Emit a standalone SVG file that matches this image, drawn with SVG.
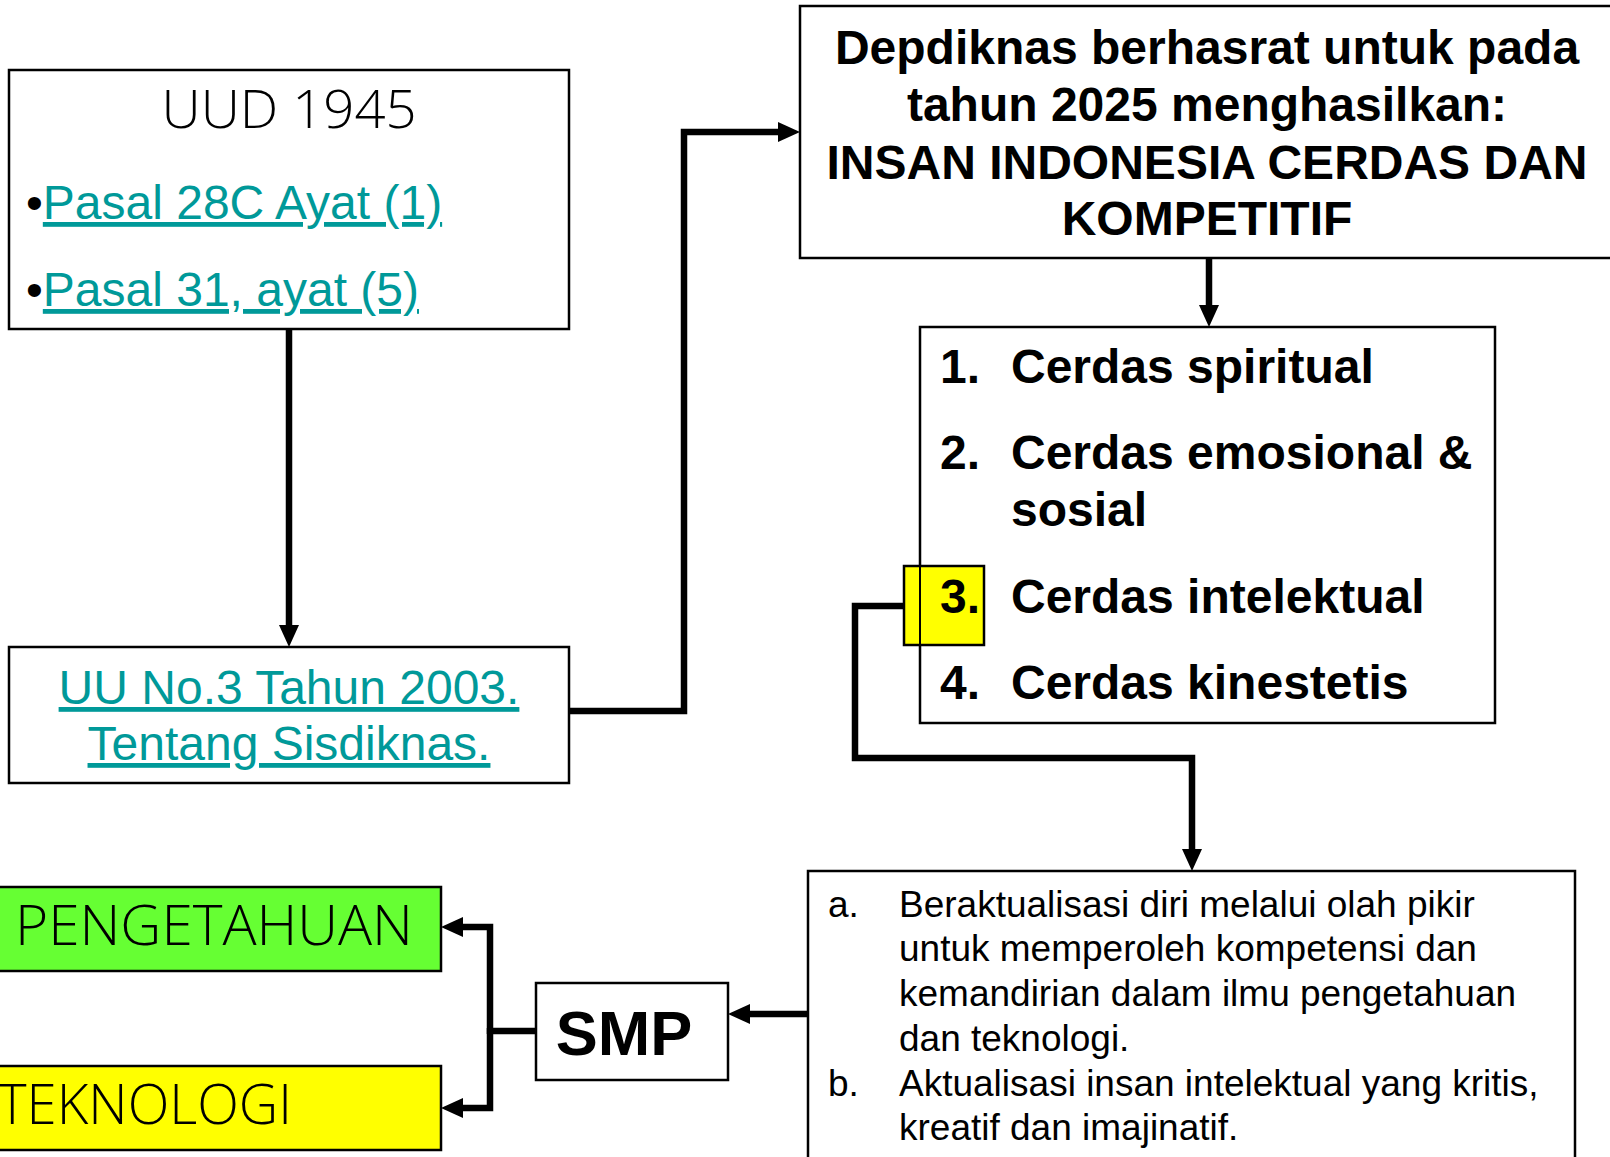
<svg xmlns="http://www.w3.org/2000/svg" width="1610" height="1157" viewBox="0 0 1610 1157">
<style>
.box{fill:#fff;stroke:#000;stroke-width:2.5}
.conn{fill:none;stroke:#000;stroke-width:6.5;stroke-linejoin:miter}
.b48{font-family:"Liberation Sans",Arial,sans-serif;font-weight:bold;font-size:48px;fill:#000}
.link{font-family:"Liberation Sans",Arial,sans-serif;font-size:48px;fill:#009999;text-decoration:underline}
.thin{font-family:"Open Sans","Noto Sans",sans-serif;font-weight:300;fill:#000}
.body{font-family:"Liberation Sans",Arial,sans-serif;font-size:37px;fill:#000}
</style>
<defs>
<marker id="ah" markerUnits="userSpaceOnUse" markerWidth="24" markerHeight="22" refX="12" refY="10" orient="auto">
<path d="M0,0 L22,10 L0,20 Z" fill="#000"/>
</marker>
</defs>
<g id="connectors">
<path class="conn" d="M289,329 V637" marker-end="url(#ah)"/>
<path class="conn" d="M569,711 H684 V132 H790" marker-end="url(#ah)"/>
<path class="conn" d="M1209,258 V317" marker-end="url(#ah)"/>
<path class="conn" d="M904,606 H855 V758 H1192 V861" marker-end="url(#ah)"/>
<path class="conn" d="M808,1014 H738" marker-end="url(#ah)"/>
<path class="conn" d="M536,1031 H490"/>
<path class="conn" d="M490,1034 V927 H451" marker-end="url(#ah)"/>
<path class="conn" d="M490,1028 V1108 H451" marker-end="url(#ah)"/>
</g>
<g id="uud">
<rect class="box" x="9" y="70" width="560" height="259"/>
<text class="thin" x="289" y="128" font-size="54" text-anchor="middle" textLength="255" lengthAdjust="spacingAndGlyphs">UUD 1945</text>
<text x="26" y="219" font-family="Liberation Sans,Arial,sans-serif" font-size="48"><tspan fill="#000">•</tspan><tspan class="link">Pasal 28C Ayat (1)</tspan></text>
<text x="26" y="306" font-family="Liberation Sans,Arial,sans-serif" font-size="48"><tspan fill="#000">•</tspan><tspan class="link">Pasal 31, ayat (5)</tspan></text>
</g>
<g id="uu">
<rect class="box" x="9" y="647" width="560" height="136"/>
<text class="link" x="289" y="704" text-anchor="middle">UU No.3 Tahun 2003.</text>
<text class="link" x="289" y="760" text-anchor="middle">Tentang Sisdiknas.</text>
</g>
<g id="depdiknas">
<rect class="box" x="800" y="6" width="820" height="252"/>
<text class="b48" x="1207" y="64" text-anchor="middle">Depdiknas berhasrat untuk pada</text>
<text class="b48" x="1207" y="121" text-anchor="middle">tahun 2025 menghasilkan:</text>
<text class="b48" x="1207" y="179" text-anchor="middle">INSAN INDONESIA CERDAS DAN</text>
<text class="b48" x="1207" y="235" text-anchor="middle">KOMPETITIF</text>
</g>
<g id="cerdas">
<rect class="box" x="920" y="327" width="575" height="396"/>
<rect x="904" y="566" width="80" height="79" fill="#ffff00" stroke="#000" stroke-width="2.5"/>
<line x1="920" y1="566" x2="920" y2="645" stroke="#000" stroke-width="2"/>
<text class="b48" x="940" y="383">1.</text><text class="b48" x="1011" y="383">Cerdas spiritual</text>
<text class="b48" x="940" y="469">2.</text><text class="b48" x="1011" y="469">Cerdas emosional &amp;</text>
<text class="b48" x="1011" y="526">sosial</text>
<text class="b48" x="940" y="613">3.</text><text class="b48" x="1011" y="613">Cerdas intelektual</text>
<text class="b48" x="940" y="699">4.</text><text class="b48" x="1011" y="699">Cerdas kinestetis</text>
</g>
<g id="aktualisasi">
<rect class="box" x="808" y="871" width="767" height="300"/>
<text class="body" x="828" y="917">a.</text>
<text class="body" x="899" y="917">Beraktualisasi diri melalui olah pikir</text>
<text class="body" x="899" y="961">untuk memperoleh kompetensi dan</text>
<text class="body" x="899" y="1006">kemandirian dalam ilmu pengetahuan</text>
<text class="body" x="899" y="1051">dan teknologi.</text>
<text class="body" x="828" y="1096">b.</text>
<text class="body" x="899" y="1096">Aktualisasi insan intelektual yang kritis,</text>
<text class="body" x="899" y="1140">kreatif dan imajinatif.</text>
</g>
<g id="smp">
<rect class="box" x="536" y="983" width="192" height="97"/>
<text x="624" y="1055" text-anchor="middle" font-family="Liberation Sans,Arial,sans-serif" font-weight="bold" font-size="63">SMP</text>
</g>
<g id="pengetahuan">
<rect x="-5" y="887" width="446" height="84" fill="#66ff33" stroke="#000" stroke-width="2.5"/>
<text class="thin" x="15" y="945" font-size="56" textLength="398" lengthAdjust="spacingAndGlyphs">PENGETAHUAN</text>
</g>
<g id="teknologi">
<rect x="-5" y="1066" width="446" height="84" fill="#ffff00" stroke="#000" stroke-width="2.5"/>
<text class="thin" x="-2" y="1124" font-size="56" textLength="294" lengthAdjust="spacingAndGlyphs">TEKNOLOGI</text>
</g>
</svg>
